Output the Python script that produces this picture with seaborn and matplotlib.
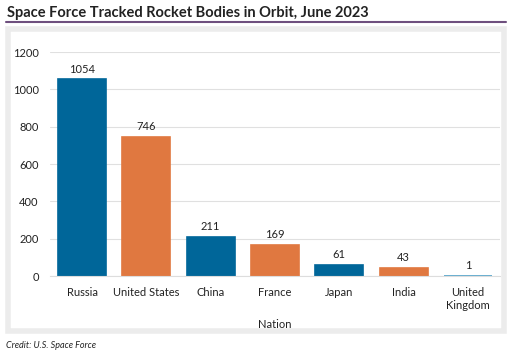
import seaborn as sns
import matplotlib.pyplot as plt
import matplotlib.patches as patches
from matplotlib.lines import Line2D

nations = ["Russia", "United States", "China", "France", "Japan", "India", "United\nKingdom"]
rocket_bodies = [1054, 746, 211, 169, 61, 43, 1]
bar_colors = ["#006699", "#e07840", "#006699", "#e07840", "#006699", "#e07840", "#4a9fc8"]

sns.set_style("white")
plt.rcParams["font.family"] = ["Lato", "DejaVu Sans"]

fig = plt.figure(figsize=(5.14, 3.54), dpi=100)
ax = fig.add_axes([0.097, 0.22, 0.876, 0.633])

sns.barplot(x=nations, y=rocket_bodies, hue=nations, palette=bar_colors,
            width=0.75, legend=False, ax=ax, saturation=1)
# thin outline in the bar's own colour so the 1-unit bar still shows
for bar, c in zip(ax.patches, bar_colors):
    bar.set_edgecolor(c)
    bar.set_linewidth(1.2)

for i, v in enumerate(rocket_bodies):
    ax.text(i, v + 25, str(v), ha="center", va="bottom", fontsize=8, color="#222222")

ax.set_ylim(0, 1200)
ax.set_yticks(range(0, 1201, 200))
ax.yaxis.grid(True, color="#e0e0e0", lw=0.8)
ax.set_axisbelow(True)
for s in ["top", "right", "left"]:
    ax.spines[s].set_visible(False)
ax.spines["bottom"].set_color("#dddddd")
ax.tick_params(axis="both", length=0, labelsize=8, colors="#222222", pad=8)
ax.set_xlabel("Nation", fontsize=8, color="#222222", labelpad=6)
ax.set_ylabel("")

# title, rule and frame
fig.text(0.013, 0.962, "Space Force Tracked Rocket Bodies in Orbit, June 2023",
         fontsize=10.5, fontweight="bold", color="#222222", va="center")
fig.add_artist(Line2D([0.012, 0.985], [0.937, 0.937], color="#6e4f7e", lw=1.5))
fig.add_artist(patches.Rectangle((0.015, 0.066), 0.966, 0.852, transform=fig.transFigure,
                                 fill=False, edgecolor="#ececec", lw=4))
fig.text(0.012, 0.025, "Credit: U.S. Space Force", fontsize=6.5, style="italic",
         color="#222222", va="center")

plt.savefig("out.png", dpi=100)
